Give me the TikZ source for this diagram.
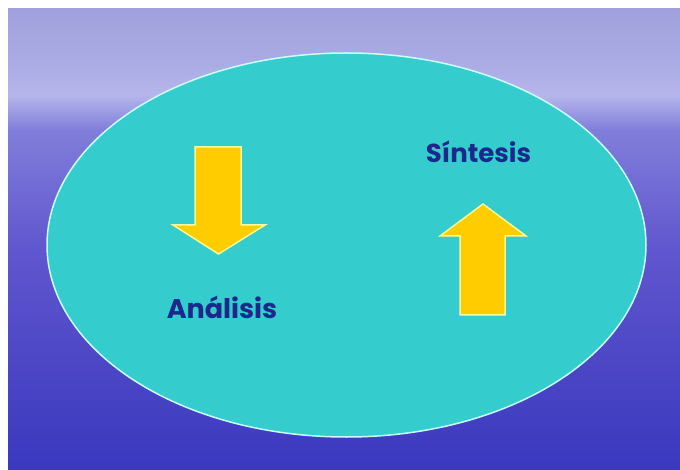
\documentclass[tikz,border=0pt]{standalone}
\usepackage{fontspec}
\setmainfont{Poppins}
\definecolor{bgA}{RGB}{160,160,220}
\definecolor{bgB}{RGB}{170,170,228}
\definecolor{bgC}{RGB}{182,182,236}
\definecolor{bgD}{RGB}{128,126,218}
\definecolor{bgE}{RGB}{96,86,206}
\definecolor{bgF}{RGB}{58,56,190}
\definecolor{teal}{RGB}{52,204,204}
\definecolor{rim}{RGB}{200,255,250}
\definecolor{gold}{RGB}{255,204,0}
\definecolor{goldrim}{RGB}{255,250,150}
\definecolor{ink}{RGB}{28,40,140}
\pgfdeclareverticalshading{sea}{100bp}{color(0bp)=(bgF); color(25bp)=(bgF); color(48.9bp)=(bgE); color(61.9bp)=(bgD); color(65.7bp)=(bgC); color(69.5bp)=(bgB); color(75bp)=(bgA); color(100bp)=(bgA)}
\tikzset{
  arrowshape/.style={fill=gold, draw=goldrim, line width=1.5pt, line join=miter},
  label/.style={font=\bfseries\fontsize{27}{30}\selectfont, text=ink, inner sep=0pt, anchor=base}
}
\begin{document}
\begin{tikzpicture}[x=1pt,y=-1pt]
\useasboundingbox (0,0) rectangle (680,470);
\shade[shading=sea] (8,9) rectangle (680,470);
\draw[fill=teal, draw=rim, line width=1.5pt] (346.5,245) ellipse [x radius=299.5, y radius=192];
% down arrow
\draw[arrowshape] (195,147) -- (241,147) -- (241,225) -- (265,225) -- (218.5,254) -- (173,225) -- (195,225) -- cycle;
% up arrow
\draw[arrowshape] (460,315) -- (505,315) -- (505,236) -- (526,236) -- (483,204) -- (440,236) -- (460,236) -- cycle;
\node[label] (analisis) at (222,319) {Análisis};
\node[label] (sintesis) at (478.5,163) {\fontsize{26}{29}\selectfont Síntesis};
\end{tikzpicture}
\end{document}
